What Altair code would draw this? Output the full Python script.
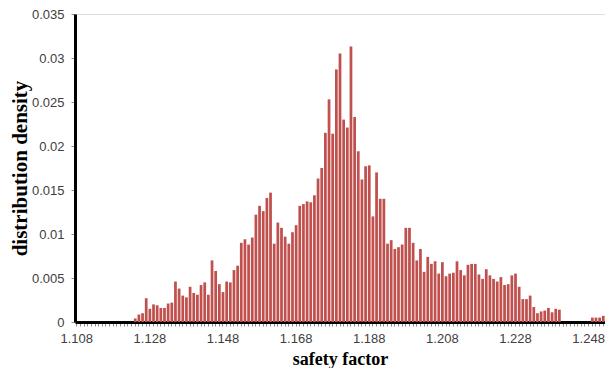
import altair as alt
import pandas as pd

# Histogram bins (bin width 0.001), first bin shown on axis: 1.108
axis_start = 1.108
n_bins = 145
bin_labels = [f"{axis_start + 0.001 * i:.3f}" for i in range(n_bins)]

# Density values, bins 1.108 .. 1.252
leading_zeros = [0.0] * 16  # 1.108 .. 1.123
density_main = [
    0.0004, 0.00085, 0.0010, 0.0027, 0.0015, 0.0020, 0.0019, 0.0016, 0.0016, 0.0021,
    0.0022, 0.0046, 0.0038, 0.0030, 0.0028, 0.0040, 0.0033, 0.0031, 0.0042, 0.0045,
    0.0031, 0.0070, 0.0058, 0.0043, 0.0034, 0.0046, 0.0045, 0.0059, 0.0064, 0.0090,
    0.0094, 0.0088, 0.0096, 0.0122, 0.0132, 0.0126, 0.0141, 0.0147, 0.0089, 0.0113,
    0.0107, 0.0097, 0.0089, 0.0102, 0.0110, 0.0132, 0.0134, 0.0137, 0.0136, 0.0144,
    0.0163, 0.0175, 0.0215, 0.0253, 0.0214, 0.0287, 0.0305, 0.0230, 0.0221, 0.0313,
    0.0233, 0.0194, 0.0162, 0.0177, 0.0178, 0.0120, 0.0170, 0.0140, 0.0140, 0.0089,
    0.0093, 0.0083, 0.0085, 0.0088, 0.0107, 0.0107, 0.0090, 0.0070, 0.0083, 0.0057,
    0.0074, 0.0066, 0.0069, 0.0055, 0.0068, 0.0052, 0.0055, 0.0056, 0.0069, 0.0059,
    0.0053, 0.0065, 0.0066, 0.0066, 0.0054, 0.0049, 0.0060, 0.0053, 0.0049, 0.0046,
    0.0051, 0.0042, 0.0043, 0.0053, 0.0055, 0.0040, 0.0026, 0.0026, 0.0030, 0.0017,
    0.0010, 0.0012, 0.0013, 0.0016, 0.0011, 0.0015, 0.0014,
]
gap_zeros = [0.0] * 8
density_tail = [0.0005, 0.0005, 0.0005, 0.0007]

density = leading_zeros + density_main + gap_zeros + density_tail
density = density + [0.0] * (n_bins - len(density))

y_ticks = [0, 0.005, 0.01, 0.015, 0.02, 0.025, 0.03, 0.035]

df = pd.DataFrame({"sf": bin_labels, "density": density[:n_bins]})

label_expr = "round((toNumber(datum.value) - 1.108) * 1000) % 20 == 0 ? datum.value : ''"

chart = alt.Chart(df).mark_bar(color="#C0504D").encode(
    x=alt.X(
        "sf:N",
        sort=bin_labels,
        scale=alt.Scale(domain=bin_labels, paddingInner=0.25, paddingOuter=0.1),
        axis=alt.Axis(
            title="safety factor",
            labelExpr=label_expr,
            labelAngle=0,
            labelOverlap=False,
            labelFont="Liberation Sans",
            labelFontSize=13,
            labelColor="#404040",
            labelPadding=6,
            tickSize=4,
            tickColor="#8c8c8c",
            tickWidth=1,
            domainColor="black",
            domainWidth=3,
            titleFont="Liberation Serif",
            titleFontSize=18,
            titleFontWeight="bold",
            titleColor="black",
            titlePadding=5,
        ),
    ),
    y=alt.Y(
        "density:Q",
        scale=alt.Scale(domain=[0, 0.035], nice=False),
        axis=alt.Axis(
            title="distribution density",
            values=y_ticks,
            format=".3~f",
            grid=False,
            labelFont="Liberation Sans",
            labelFontSize=13,
            labelColor="#404040",
            labelPadding=7,
            tickSize=4,
            tickColor="#8c8c8c",
            domainColor="black",
            domainWidth=3,
            titleFont="Liberation Serif",
            titleFontSize=21,
            titleFontWeight="bold",
            titleColor="black",
            titlePadding=1,
        ),
    ),
).properties(
    width=530,
    height=308,
    autosize=alt.AutoSizeParams(type="none"),
    padding={"left": 67, "top": 6, "right": 0, "bottom": 46},
).configure_view(stroke=None).configure(background="white")

chart.save("out.html", embed_options={"renderer": "svg", "actions": False})
